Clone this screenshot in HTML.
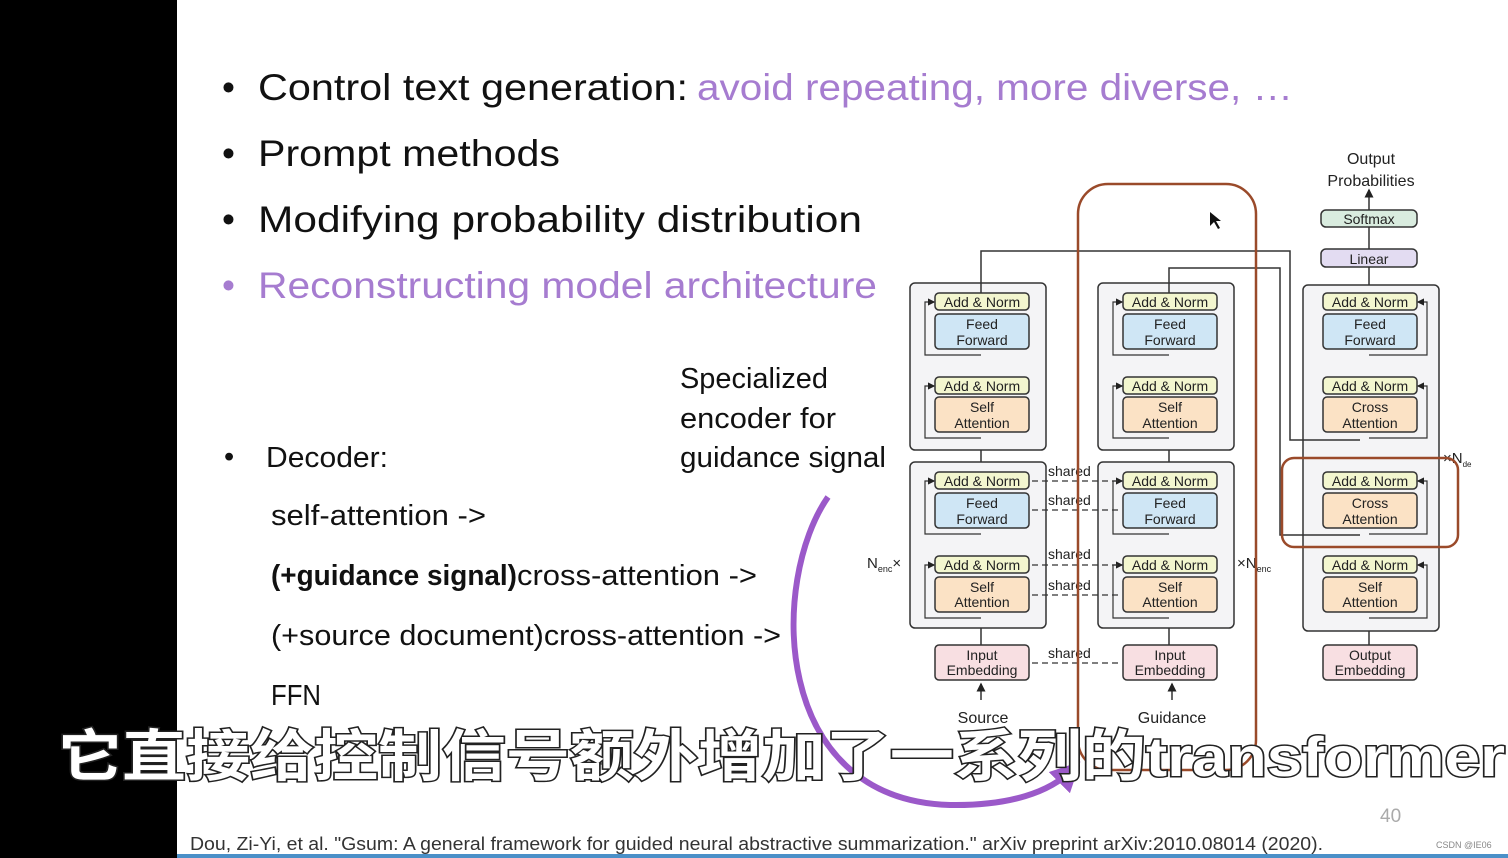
<!DOCTYPE html>
<html><head><meta charset="utf-8"><style>
html,body{margin:0;padding:0;background:#000;}
svg{display:block;}
</style></head><body>
<svg width="1508" height="858" viewBox="0 0 1508 858" xmlns="http://www.w3.org/2000/svg" font-family="Liberation Sans, sans-serif">
<defs>
<marker id="ar" markerWidth="6" markerHeight="6" refX="5" refY="3" orient="auto"><path d="M0,0 L6,3 L0,6 z" fill="#222"/></marker>
<marker id="pa" markerWidth="5" markerHeight="5" refX="3" refY="2.5" orient="auto"><path d="M0,0 L5,2.5 L0,5 z" fill="#9b59c9"/></marker>
</defs>
<rect x="0" y="0" width="1508" height="858" fill="#000"/>
<rect x="177" y="0" width="1331" height="858" fill="#fff"/>
<rect x="177" y="854" width="1331" height="4" fill="#4a90c8"/>

<!-- bullets -->
<g font-size="37" fill="#111">
<text x="222" y="100">•</text>
<text x="258" y="100" textLength="430" lengthAdjust="spacingAndGlyphs">Control text generation:</text>
<text x="697" y="100" fill="#a67cd0" textLength="596" lengthAdjust="spacingAndGlyphs">avoid repeating,  more diverse, …</text>
<text x="222" y="166">•</text>
<text x="258" y="166" textLength="302" lengthAdjust="spacingAndGlyphs">Prompt methods</text>
<text x="222" y="232">•</text>
<text x="258" y="232" textLength="604" lengthAdjust="spacingAndGlyphs">Modifying probability distribution</text>
<text x="222" y="298" fill="#a67cd0">•</text>
<text x="258" y="298" fill="#a67cd0" textLength="619" lengthAdjust="spacingAndGlyphs">Reconstructing model architecture</text>
</g>
<g font-size="29" fill="#111">
<text x="224" y="466">•</text>
<text x="266" y="467" textLength="122" lengthAdjust="spacingAndGlyphs">Decoder:</text>
<text x="271" y="525" textLength="215" lengthAdjust="spacingAndGlyphs">self-attention -&gt;</text>
<text x="271" y="585" font-weight="bold" textLength="246" lengthAdjust="spacingAndGlyphs">(+guidance signal)</text>
<text x="517" y="585" textLength="240" lengthAdjust="spacingAndGlyphs">cross-attention -&gt;</text>
<text x="271" y="645" textLength="510" lengthAdjust="spacingAndGlyphs">(+source document)cross-attention -&gt;</text>
<text x="271" y="705" textLength="50" lengthAdjust="spacingAndGlyphs">FFN</text>
<text x="680" y="388" textLength="148" lengthAdjust="spacingAndGlyphs">Specialized</text>
<text x="680" y="428" textLength="156" lengthAdjust="spacingAndGlyphs">encoder for</text>
<text x="680" y="467" textLength="206" lengthAdjust="spacingAndGlyphs">guidance signal</text>
</g>

<!-- diagram -->
<g stroke="#333" stroke-width="1.5" fill="none">
<!-- outer blocks -->
<rect x="910" y="283" width="136" height="167" rx="5" fill="#f4f4f6"/>
<rect x="910" y="462" width="136" height="166" rx="5" fill="#f4f4f6"/>
<rect x="1098" y="283" width="136" height="167" rx="5" fill="#f4f4f6"/>
<rect x="1098" y="462" width="136" height="166" rx="5" fill="#f4f4f6"/>
<rect x="1303" y="285" width="136" height="346" rx="5" fill="#f4f4f6"/>
<!-- connections -->
<path d="M981,293 V251 H1290 V440 H1360"/>
<path d="M1169,293 V268 H1280 V535 H1360"/>
<path d="M1369,285 V267"/>
<path d="M1369,249 V227"/>
<path d="M1369,210 V190" marker-end="url(#ar)"/>
<path d="M981,645 V628 M981,462 V450 M1169,645 V628 M1169,462 V450 M1369,645 V631"/>
<path d="M981,700 V684" marker-end="url(#ar)"/>
<path d="M1172,700 V684" marker-end="url(#ar)"/>
</g>
<g stroke="#333" stroke-width="1.2" fill="none">
<!-- residual loops -->
<path d="M981,355 H925 V302 H934" marker-end="url(#ar)"/><path d="M981,438 H925 V386 H934" marker-end="url(#ar)"/>
<path d="M981,534 H925 V481 H934" marker-end="url(#ar)"/><path d="M981,618 H925 V565 H934" marker-end="url(#ar)"/>
<path d="M1169,355 H1113 V302 H1122" marker-end="url(#ar)"/><path d="M1169,438 H1113 V386 H1122" marker-end="url(#ar)"/>
<path d="M1169,534 H1113 V481 H1122" marker-end="url(#ar)"/><path d="M1169,618 H1113 V565 H1122" marker-end="url(#ar)"/>
<path d="M1369,355 H1427 V302 H1418" marker-end="url(#ar)"/><path d="M1369,438 H1427 V386 H1418" marker-end="url(#ar)"/>
<path d="M1369,534 H1427 V481 H1418" marker-end="url(#ar)"/><path d="M1369,618 H1427 V565 H1418" marker-end="url(#ar)"/>
<!-- shared dashed -->
<path d="M1032,481 H1120 M1032,510 H1120 M1032,565 H1120 M1032,595 H1120 M1032,663 H1120" stroke-dasharray="6,4"/>
</g>
<g font-size="14" fill="#222" text-anchor="middle">
<g stroke="#333" stroke-width="1.5">
<rect x="935" y="293" width="94" height="17" rx="4" fill="#f3f6cf"/><rect x="935" y="314" width="94" height="35" rx="4" fill="#cfe6f5"/>
<rect x="935" y="377" width="94" height="17" rx="4" fill="#f3f6cf"/><rect x="935" y="397" width="94" height="35" rx="4" fill="#fbe2c5"/>
<rect x="935" y="472" width="94" height="17" rx="4" fill="#f3f6cf"/><rect x="935" y="493" width="94" height="35" rx="4" fill="#cfe6f5"/>
<rect x="935" y="556" width="94" height="17" rx="4" fill="#f3f6cf"/><rect x="935" y="577" width="94" height="35" rx="4" fill="#fbe2c5"/>
<rect x="935" y="645" width="94" height="35" rx="4" fill="#f8dfe2"/>
<rect x="1123" y="293" width="94" height="17" rx="4" fill="#f3f6cf"/><rect x="1123" y="314" width="94" height="35" rx="4" fill="#cfe6f5"/>
<rect x="1123" y="377" width="94" height="17" rx="4" fill="#f3f6cf"/><rect x="1123" y="397" width="94" height="35" rx="4" fill="#fbe2c5"/>
<rect x="1123" y="472" width="94" height="17" rx="4" fill="#f3f6cf"/><rect x="1123" y="493" width="94" height="35" rx="4" fill="#cfe6f5"/>
<rect x="1123" y="556" width="94" height="17" rx="4" fill="#f3f6cf"/><rect x="1123" y="577" width="94" height="35" rx="4" fill="#fbe2c5"/>
<rect x="1123" y="645" width="94" height="35" rx="4" fill="#f8dfe2"/>
<rect x="1323" y="293" width="94" height="17" rx="4" fill="#f3f6cf"/><rect x="1323" y="314" width="94" height="35" rx="4" fill="#cfe6f5"/>
<rect x="1323" y="377" width="94" height="17" rx="4" fill="#f3f6cf"/><rect x="1323" y="397" width="94" height="35" rx="4" fill="#fbe2c5"/>
<rect x="1323" y="472" width="94" height="17" rx="4" fill="#f3f6cf"/><rect x="1323" y="493" width="94" height="35" rx="4" fill="#fbe2c5"/>
<rect x="1323" y="556" width="94" height="17" rx="4" fill="#f3f6cf"/><rect x="1323" y="577" width="94" height="35" rx="4" fill="#fbe2c5"/>
<rect x="1323" y="645" width="94" height="35" rx="4" fill="#f8dfe2"/>
<rect x="1321" y="210" width="96" height="17" rx="5" fill="#d9ecdf"/>
<rect x="1321" y="249" width="96" height="18" rx="5" fill="#e3dcf2"/>
</g>
<text x="982" y="307">Add &amp; Norm</text><text x="982" y="329">Feed</text><text x="982" y="345">Forward</text>
<text x="982" y="391">Add &amp; Norm</text><text x="982" y="412">Self</text><text x="982" y="428">Attention</text>
<text x="982" y="486">Add &amp; Norm</text><text x="982" y="508">Feed</text><text x="982" y="524">Forward</text>
<text x="982" y="570">Add &amp; Norm</text><text x="982" y="592">Self</text><text x="982" y="607">Attention</text>
<text x="982" y="660">Input</text><text x="982" y="675">Embedding</text>
<text x="1170" y="307">Add &amp; Norm</text><text x="1170" y="329">Feed</text><text x="1170" y="345">Forward</text>
<text x="1170" y="391">Add &amp; Norm</text><text x="1170" y="412">Self</text><text x="1170" y="428">Attention</text>
<text x="1170" y="486">Add &amp; Norm</text><text x="1170" y="508">Feed</text><text x="1170" y="524">Forward</text>
<text x="1170" y="570">Add &amp; Norm</text><text x="1170" y="592">Self</text><text x="1170" y="607">Attention</text>
<text x="1170" y="660">Input</text><text x="1170" y="675">Embedding</text>
<text x="1370" y="307">Add &amp; Norm</text><text x="1370" y="329">Feed</text><text x="1370" y="345">Forward</text>
<text x="1370" y="391">Add &amp; Norm</text><text x="1370" y="412">Cross</text><text x="1370" y="428">Attention</text>
<text x="1370" y="486">Add &amp; Norm</text><text x="1370" y="508">Cross</text><text x="1370" y="524">Attention</text>
<text x="1370" y="570">Add &amp; Norm</text><text x="1370" y="592">Self</text><text x="1370" y="607">Attention</text>
<text x="1370" y="660">Output</text><text x="1370" y="675">Embedding</text>
<text x="1369" y="224">Softmax</text><text x="1369" y="264">Linear</text>
<text x="1371" y="164" font-size="16">Output</text><text x="1371" y="186" font-size="16">Probabilities</text>
<text x="983" y="723" font-size="16">Source</text><text x="1172" y="723" font-size="16">Guidance</text>
</g>
<g font-size="14" fill="#222">
<text x="1048" y="476">shared</text><text x="1048" y="505">shared</text><text x="1048" y="559">shared</text><text x="1048" y="590">shared</text><text x="1048" y="658">shared</text>
<text x="867" y="568" font-size="15">N<tspan font-size="9" dy="4">enc</tspan><tspan dy="-4">×</tspan></text>
<text x="1237" y="568" font-size="15">×N<tspan font-size="9" dy="4">enc</tspan></text>
<text x="1443" y="463" font-size="15">×N<tspan font-size="8" dy="4">de</tspan></text>
</g>
<!-- highlights -->
<rect x="1078" y="184" width="178" height="586" rx="30" fill="none" stroke="#9a4a2a" stroke-width="2.5"/>
<rect x="1282" y="458" width="176" height="89" rx="12" fill="none" stroke="#9a4a2a" stroke-width="2.5"/>
<path d="M1210,212 l0,14 l4,-4 l4,7 l2,-1 l-4,-7 l5,0 z" fill="#111"/>
<path d="M828,497 C770,580 770,800 950,805 C1010,806 1050,792 1072,770" fill="none" stroke="#9b59c9" stroke-width="6" marker-end="url(#pa)"/>

<!-- subtitle -->
<text x="58" y="776" font-size="56" font-weight="bold" fill="#fff" stroke="#222" stroke-width="3" paint-order="stroke" font-family="Liberation Sans, Noto Sans CJK SC, sans-serif" textLength="1447" lengthAdjust="spacingAndGlyphs">它直接给控制信号额外增加了一系列的transformer</text>

<text x="1380" y="822" font-size="19" fill="#aaa">40</text>
<text x="190" y="850" font-size="18" fill="#333" textLength="1133" lengthAdjust="spacingAndGlyphs">Dou, Zi-Yi, et al. "Gsum: A general framework for guided neural abstractive summarization." arXiv preprint arXiv:2010.08014 (2020).</text>
<text x="1436" y="848" font-size="9" fill="#888">CSDN @IE06</text>
</svg>
</body></html>
